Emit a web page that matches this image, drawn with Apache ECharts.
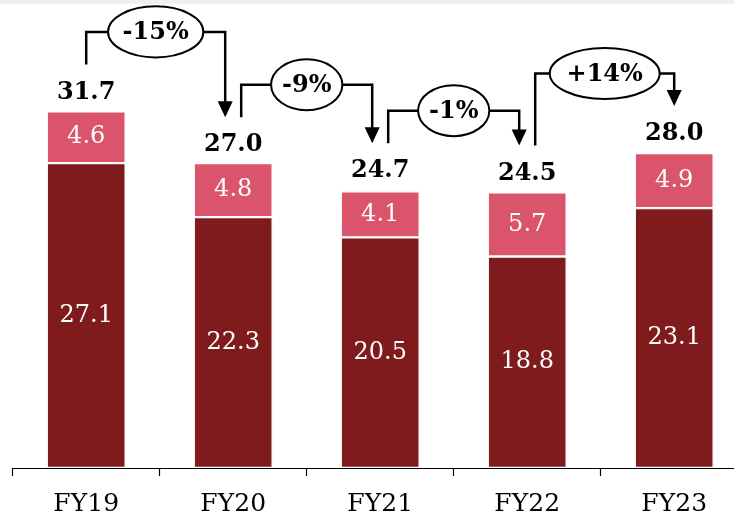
<!DOCTYPE html>
<html>
<head>
<meta charset="utf-8">
<script src="https://cdn.jsdelivr.net/npm/echarts@6/dist/echarts.min.js"></script>
<style>
  html, body { margin: 0; padding: 0; background: #fff; }
  #chart { width: 734px; height: 522px; }
</style>
</head>
<body>
<div id="chart"></div>
<script>
// Fiscal years and the two stacked components
const categories = ['FY19', 'FY20', 'FY21', 'FY22', 'FY23'];
const baseValues = [27.1, 22.3, 20.5, 18.8, 23.1];
const topValues = [4.6, 4.8, 4.1, 5.7, 4.9];
const totals = [31.7, 27.0, 24.7, 24.5, 28.0];
const changes = ['-15%', '-9%', '-1%', '+14%'];

const SERIF = '"DejaVu Serif", "Liberation Serif", serif';
const DARK = '#7f1b1c';
const PINK = '#da546c';

const chart = echarts.init(document.getElementById('chart'), null, { renderer: 'canvas' });

chart.setOption({
  backgroundColor: '#ffffff',
  animation: false,
  grid: { left: 12.7, width: 735, top: 18, height: 450, outerBoundsMode: 'none', containLabel: false },
  xAxis: {
    type: 'category',
    data: categories,
    axisLine: { lineStyle: { color: '#000', width: 1.2 } },
    axisTick: { show: true, length: 8, lineStyle: { color: '#000', width: 1.2 } },
    axisLabel: { color: '#000', fontFamily: SERIF, fontSize: 25, margin: 24 }
  },
  yAxis: { type: 'value', min: 0, max: 40, show: false, splitLine: { show: false } },
  series: [
    {
      name: 'base', type: 'bar', stack: 'total', barWidth: 79,
      data: baseValues,
      itemStyle: { color: DARK, borderColor: '#fff', borderWidth: 1.2 },
      label: { show: true, position: 'inside', color: '#fff', fontFamily: SERIF, fontSize: 24,
               formatter: p => p.value.toFixed(1) }
    },
    {
      name: 'top', type: 'bar', stack: 'total', barWidth: 79,
      data: topValues,
      itemStyle: { color: PINK, borderColor: '#fff', borderWidth: 1.2 },
      label: { show: true, position: 'inside', color: '#fff', fontFamily: SERIF, fontSize: 24,
               formatter: p => p.value.toFixed(1) }
    },
    {
      name: 'total', type: 'scatter', symbolSize: 0,
      data: totals,
      itemStyle: { color: '#000', opacity: 1 },
      label: { show: true, position: 'top', distance: 7, color: '#000', fontFamily: SERIF,
               fontWeight: 'bold', fontSize: 24, lineHeight: 24,
               formatter: p => p.value.toFixed(1) }
    }
  ]
});

// Change connectors between consecutive totals
const ctx = document.createElement('canvas').getContext('2d');
const pctFont = 'bold 24px ' + SERIF;
ctx.font = pctFont;

const toPx = (i, v) => chart.convertToPixel({ xAxisIndex: 0, yAxisIndex: 0 }, [i, v]);
const elements = [
  { type: 'rect', shape: { x: 0, y: 0, width: 734, height: 4 }, style: { fill: '#f0f0f0' }, z: 1 }
];

for (let i = 0; i < changes.length; i++) {
  const a = toPx(i, totals[i]);
  const b = toPx(i + 1, totals[i + 1]);
  const x0 = a[0] + (i === 0 ? 0 : 8);
  const x1 = b[0] - (i + 1 === categories.length - 1 ? 0 : 8);
  const y0 = a[1] - 47;
  const tip = b[1] - 47;
  const level = Math.min(y0, tip) - 32.5;
  const cx = (x0 + x1) / 2;
  const tw = ctx.measureText(changes[i]).width;

  elements.push({
    type: 'polyline', z: 10,
    shape: { points: [[x0, y0], [x0, level], [x1, level], [x1, tip - 15]] },
    style: { stroke: '#000', lineWidth: 2.5, fill: null }
  });
  elements.push({
    type: 'polygon', z: 10,
    shape: { points: [[x1 - 7.5, tip - 16], [x1 + 7.5, tip - 16], [x1, tip]] },
    style: { fill: '#000' }
  });
  elements.push({
    type: 'ellipse', z: 11,
    shape: { cx: cx, cy: level, rx: tw * 0.72, ry: 25.5 },
    style: { fill: '#fff', stroke: '#000', lineWidth: 2 }
  });
  elements.push({
    type: 'text', z: 12, x: cx, y: level + 1,
    style: { text: changes[i], font: pctFont, fill: '#000', align: 'center', verticalAlign: 'middle',
             textAlign: 'center', textVerticalAlign: 'middle' }
  });
}

chart.setOption({ graphic: { elements: elements } });
</script>
</body>
</html>
